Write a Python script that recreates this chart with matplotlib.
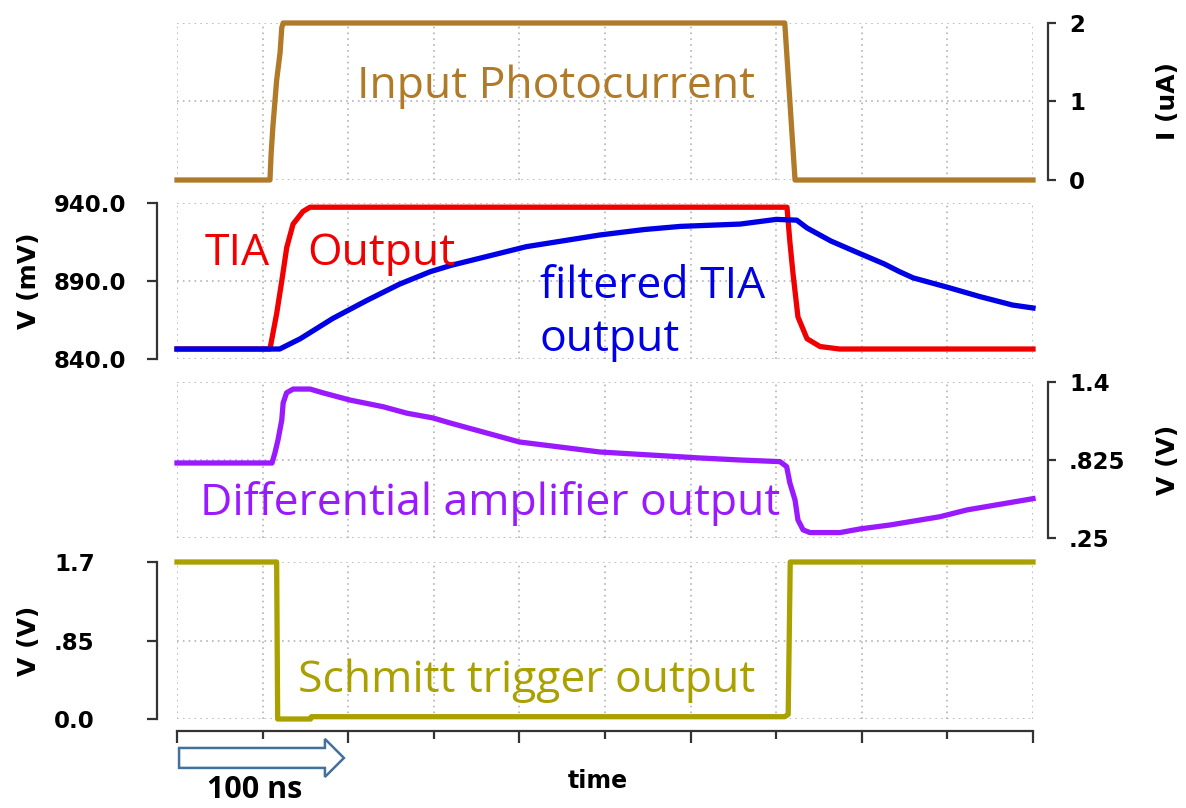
import matplotlib
matplotlib.use("Agg")
import matplotlib.pyplot as plt
import matplotlib.transforms as mtransforms
from matplotlib.patches import FancyArrow

# ---- data (time in ns) ----
t_grid = [0, 50, 100, 150, 200, 250, 300, 350, 400, 450, 500]
t_major = [0, 100, 200, 300, 400, 500]
t_minor = [50, 150, 250, 350, 450]

t_photo = [0, 54.3, 55, 56, 58.2, 60.2, 61.2, 62, 355, 358, 361, 500]
i_photo = [0, 0, 0.34, 0.675, 1.27, 1.62, 1.94, 2.0, 2.0, 1.0, 0, 0]

t_tia = [0, 54.3, 58.2, 61.2, 64.1, 67.8, 73.6, 77.7, 356.3, 358, 359.8,
         362.7, 368, 375.6, 387, 500]
v_tia = [846.4, 846.4, 869, 890, 911.5, 926.5, 934.6, 937.3, 937.3, 915, 895,
         867, 853, 848, 846.4, 846.4]

t_filt = [0, 60, 72, 91, 111, 130, 148, 160, 204, 247, 273, 294, 329, 350,
          362, 368, 382, 398, 413, 422, 430, 450, 469, 488, 500]
v_filt = [846.4, 846.4, 853, 866, 877.6, 888, 896, 900, 912, 919.5, 923, 925,
          926.5, 929.5, 929, 924, 915.6, 908, 901, 896, 892, 886, 880, 874.6,
          872.7]

t_diff = [0, 55.5, 57.2, 59, 61.2, 62, 64, 67.8, 77.7, 85.3, 101, 120.3, 134.3,
          149.5, 159.5, 200, 247, 305.5, 328.9, 352.2, 356.1, 358, 361, 362.7,
          365.7, 369.7, 387.3, 399, 416.5, 445.7, 461.4, 500]
v_diff = [0.803, 0.803, 0.877, 0.973, 1.12, 1.245, 1.32, 1.348, 1.348, 1.32,
          1.267, 1.218, 1.17, 1.135, 1.098, 0.958, 0.884, 0.84, 0.825, 0.813,
          0.776, 0.655, 0.53, 0.383, 0.31, 0.29, 0.29, 0.317, 0.346, 0.407,
          0.457, 0.54]

t_schmitt = [0, 58.2, 58.8, 78, 78.5, 355, 357, 358.2, 500]
v_schmitt = [1.7, 1.7, 0.0, 0.0, 0.025, 0.025, 0.05, 1.7, 1.7]

photo_ticks = [0, 1, 2]
photo_labels = ["0", "1", "2"]
tia_ticks = [840, 890, 940]
tia_labels = ["840.0", "890.0", "940.0"]
diff_ticks = [0.25, 0.825, 1.4]
diff_labels = [".25", ".825", "1.4"]
schmitt_ticks = [0, 0.85, 1.7]
schmitt_labels = ["0.0", ".85", "1.7"]

C_PHOTO = "#b07a28"
C_TIA = "#f00000"
C_FILT = "#0000e6"
C_DIFF = "#9a1aff"
C_SCHMITT = "#aaa000"
C_AXIS = "#333333"
C_GRID = "#b4b4b4"

W, H = 1186, 808
PX = 0.72  # points per pixel at dpi 100
fig = plt.figure(figsize=(W / 100, H / 100), dpi=100)

ANNOT = dict(family=["Open Sans", "DejaVu Sans"], fontsize=32)
TICKFONT = dict(family="DejaVu Sans", fontweight="bold", fontsize=16.5)


def add_panel(top, bottom):
    return fig.add_axes([177 / W, 1 - bottom / H, 856 / W, (bottom - top) / H])


def style_panel(ax, side, ticks, labels, ylim, label):
    ax.set_xlim(0, 500)
    ax.set_ylim(*ylim)
    for sp in ax.spines.values():
        sp.set_visible(False)
    sp = ax.spines[side]
    sp.set_visible(True)
    sp.set_color(C_AXIS)
    sp.set_linewidth(1.6)
    ax.set_xticks(t_grid)
    ax.tick_params(axis="x", length=0, labelbottom=False)
    ax.set_yticks(ticks)
    if side == "left":
        sp.set_position(("outward", 20 * PX))
        ax.tick_params(axis="y", direction="out", length=10 * PX, width=1.6,
                       color=C_AXIS, pad=93 * PX)
        ax.set_yticklabels(labels, ha="left", **TICKFONT)
        ax.text(-0.173, 0.5, label, transform=ax.transAxes, rotation=90,
                ha="center", va="center", fontsize=18, fontweight="bold")
    else:
        sp.set_position(("outward", 15 * PX))
        ax.yaxis.tick_right()
        ax.tick_params(axis="y", direction="out", length=8 * PX, width=1.6,
                       color=C_AXIS, pad=13 * PX)
        ax.set_yticklabels(labels, **TICKFONT)
        ax.text(1.158, 0.5, label, transform=ax.transAxes, rotation=90,
                ha="center", va="center", fontsize=18, fontweight="bold")
    ax.grid(True, linestyle=(0, (1, 2.5)), color=C_GRID, linewidth=1.2)
    ax.set_axisbelow(True)


LW = 3.8

# panel 1: input photocurrent
ax1 = add_panel(23, 180)
style_panel(ax1, "right", photo_ticks, photo_labels, (0, 2), "I (uA)")
ax1.plot(t_photo, i_photo, color=C_PHOTO, lw=LW, clip_on=False)
ax1.text(105, 1.04, "Input Photocurrent", color=C_PHOTO, va="baseline", **ANNOT)

# panel 2: TIA output and filtered output
ax2 = add_panel(203, 359)
style_panel(ax2, "left", tia_ticks, tia_labels, (840, 940), "V (mV)")
ax2.plot(t_tia, v_tia, color=C_TIA, lw=LW, clip_on=False)
ax2.plot(t_filt, v_filt, color=C_FILT, lw=LW, clip_on=False)
ax2.text(16.4, 900.3, "TIA", color=C_TIA, va="baseline", **ANNOT)
ax2.text(76, 900.3, "Output", color=C_TIA, va="baseline", **ANNOT)
ax2.text(212, 879, "filtered TIA", color=C_FILT, va="baseline", **ANNOT)
ax2.text(212, 845, "output", color=C_FILT, va="baseline", **ANNOT)

# panel 3: differential amplifier
ax3 = add_panel(382, 538)
style_panel(ax3, "right", diff_ticks, diff_labels, (0.25, 1.4), "V (V)")
ax3.plot(t_diff, v_diff, color=C_DIFF, lw=LW, clip_on=False)
ax3.text(13.4, 0.42, "Differential amplifier output", color=C_DIFF,
         va="baseline", **ANNOT)

# panel 4: schmitt trigger, carries the time axis
ax4 = add_panel(562, 719)
style_panel(ax4, "left", schmitt_ticks, schmitt_labels, (0, 1.7), "V (V)")
ax4.plot(t_schmitt, v_schmitt, color=C_SCHMITT, lw=LW, clip_on=False)
ax4.text(70.7, 0.29, "Schmitt trigger output", color=C_SCHMITT,
         va="baseline", **ANNOT)

ax4.spines["bottom"].set_visible(True)
ax4.spines["bottom"].set_position(("outward", 12 * PX))
ax4.spines["bottom"].set_color(C_AXIS)
ax4.spines["bottom"].set_linewidth(1.6)
ax4.set_xticks(t_major)
ax4.set_xticks(t_minor, minor=True)
ax4.tick_params(axis="x", which="major", direction="out", length=12 * PX,
                width=1.6, color=C_AXIS, labelbottom=False)
ax4.tick_params(axis="x", which="minor", direction="out", length=8 * PX,
                width=1.6, color=C_AXIS, labelbottom=False)
ax4.grid(True, which="both", axis="x", linestyle=(0, (1, 2.5)),
         color=C_GRID, linewidth=1.2)

blend = mtransforms.blended_transform_factory(ax4.transData, ax4.transAxes)
ax4.text(246, -0.44, "time", transform=blend, ha="center", va="baseline",
         fontsize=17, fontweight="bold")

# scale arrow: 100 ns
arrow = FancyArrow(1.2, -0.248, 96.3, 0, width=0.127, head_width=0.242,
                   head_length=11.1, length_includes_head=True,
                   transform=blend, clip_on=False, facecolor="white",
                   edgecolor="#41719c", linewidth=1.8)
ax4.add_patch(arrow)
ax4.text(45.6, -0.505, "100 ns", transform=blend, ha="center", va="baseline",
         family=["Open Sans", "DejaVu Sans"], fontweight="bold", fontsize=22)

fig.savefig("out.png", dpi=100)
